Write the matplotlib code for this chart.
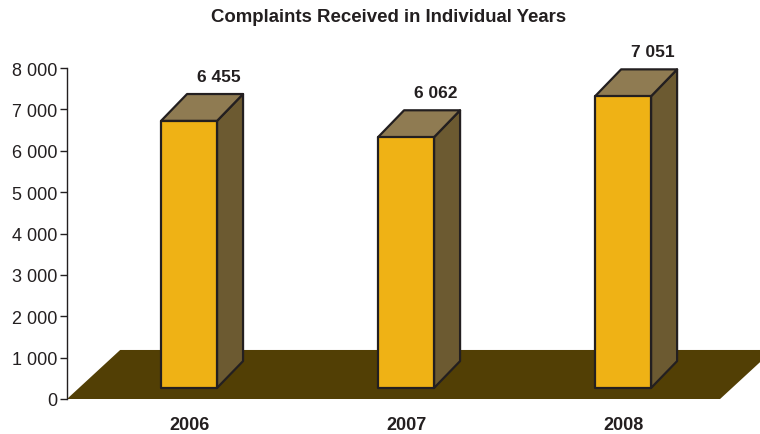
import matplotlib
matplotlib.use("Agg")
import matplotlib.pyplot as plt
from matplotlib.patches import Polygon

plt.rcParams['font.family'] = ['Liberation Sans', 'DejaVu Sans']

# Data
years = ["2006", "2007", "2008"]
complaints = [6455, 6062, 7051]
y_ticks = [0, 1000, 2000, 3000, 4000, 5000, 6000, 7000, 8000]
title = "Complaints Received in Individual Years"

# Style
front_color = "#EFB215"
top_color = "#8F7B52"
side_color = "#6C5A31"
floor_color = "#523F05"
edge_color = "#231F20"

bar_half = 0.129      # half width of the front face (category units)
depth_x = 0.12        # 3D offset to the back (category units)
depth_y = 650         # 3D offset to the back (value units)
bar_base = 266        # bars stand slightly in front of the floor's back edge
floor_depth_x = 0.245
floor_depth_y = 1185

fig = plt.figure(figsize=(7.6, 4.35), dpi=100)
ax = fig.add_axes([67 / 760, 35 / 435, 693 / 760, 331 / 435])
ax.set_xlim(-0.5622, 2.631)
ax.set_ylim(0, 8000)

# Floor
x0, x1 = -0.5622, 2.447
floor = Polygon([(x0, 0), (x1, 0), (x1 + floor_depth_x, floor_depth_y),
                 (x0 + floor_depth_x, floor_depth_y)],
                closed=True, facecolor=floor_color, edgecolor="none", zorder=1)
ax.add_patch(floor)

for i, (yr, v) in enumerate(zip(years, complaints)):
    l, r = i - bar_half, i + bar_half
    b, t = bar_base, bar_base + v
    front = Polygon([(l, b), (r, b), (r, t), (l, t)], closed=True,
                    facecolor=front_color, edgecolor=edge_color, lw=1.6,
                    joinstyle="round", zorder=3)
    top = Polygon([(l, t), (r, t), (r + depth_x, t + depth_y),
                   (l + depth_x, t + depth_y)], closed=True,
                  facecolor=top_color, edgecolor=edge_color, lw=1.6,
                  joinstyle="round", zorder=2)
    side = Polygon([(r, b), (r + depth_x, b + depth_y),
                    (r + depth_x, t + depth_y), (r, t)], closed=True,
                   facecolor=side_color, edgecolor=edge_color, lw=1.6,
                   joinstyle="round", zorder=2)
    for p in (side, top, front):
        ax.add_patch(p)
    ax.text(i + 0.136, t + depth_y + 430, f"{v:,}".replace(",", " "),
            ha="center", va="center", fontsize=12.5, fontweight="bold",
            color="#231F20", zorder=4)

# Axes styling
for s in ("top", "right", "bottom"):
    ax.spines[s].set_visible(False)
ax.spines["left"].set_color(edge_color)
ax.spines["left"].set_linewidth(1.0)
ax.set_yticks(y_ticks)
ax.set_yticklabels([f"{t:,}".replace(",", " ") for t in y_ticks],
                   fontsize=13, color="#231F20")
ax.tick_params(axis="y", length=5, width=1.0, color=edge_color, pad=2)
ax.set_xticks(range(len(years)))
ax.set_xticklabels(years, fontsize=13, fontweight="bold", color="#231F20")
ax.tick_params(axis="x", length=0, pad=12)
ax.set_facecolor("none")

fig.text(389 / 760, 1 - 17.5 / 435, title, ha="center", va="center",
         fontsize=13.4, fontweight="bold", color="#231F20")

fig.savefig("out.png", dpi=100, facecolor="white")
